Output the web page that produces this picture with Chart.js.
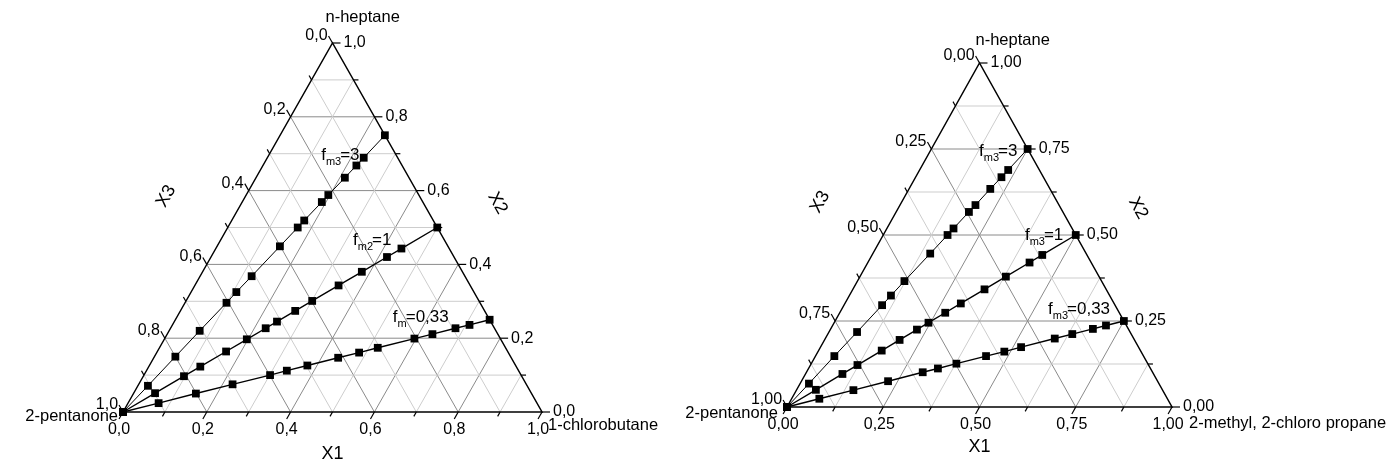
<!DOCTYPE html>
<html>
<head>
<meta charset="utf-8">
<script src="https://cdn.jsdelivr.net/npm/chart.js@4.4.0/dist/chart.umd.min.js"></script>
<style>
  body { margin: 0; background: #fff; overflow: hidden; }
  .wrap { position: absolute; top: 0; height: 464px; }
</style>
</head>
<body>
<div class="wrap" style="left:0;width:700px"><canvas id="left" width="700" height="464"></canvas></div>
<div class="wrap" style="left:640px;width:751px"><canvas id="right" width="751" height="464"></canvas></div>
<script>
// mole fractions: X1 along the base, X2 up the right side
const leftFm3X1 = [0, 0.024, 0.050, 0.073, 0.099, 0.108, 0.123, 0.150, 0.167, 0.173, 0.190, 0.196, 0.212, 0.223, 0.230, 0.250];
const leftFm3X2 = [0, 0.071, 0.150, 0.220, 0.296, 0.325, 0.368, 0.449, 0.500, 0.519, 0.569, 0.588, 0.635, 0.668, 0.689, 0.750];
const leftFm2X1 = [0, 0.051, 0.097, 0.123, 0.164, 0.197, 0.227, 0.245, 0.274, 0.301, 0.343, 0.380, 0.420, 0.443, 0.500];
const leftFm2X2 = [0, 0.051, 0.097, 0.123, 0.164, 0.197, 0.227, 0.245, 0.274, 0.301, 0.343, 0.380, 0.420, 0.443, 0.500];
const leftFmX1 = [0, 0.073, 0.149, 0.224, 0.301, 0.335, 0.377, 0.440, 0.483, 0.521, 0.596, 0.633, 0.680, 0.709, 0.750];
const leftFmX2 = [0, 0.024, 0.050, 0.075, 0.100, 0.112, 0.126, 0.147, 0.161, 0.174, 0.199, 0.211, 0.227, 0.236, 0.250];

const rightFm3aX1 = [0, 0.023, 0.049, 0.073, 0.099, 0.108, 0.122, 0.149, 0.167, 0.173, 0.189, 0.196, 0.211, 0.223, 0.230, 0.250];
const rightFm3aX2 = [0, 0.068, 0.148, 0.218, 0.296, 0.324, 0.366, 0.446, 0.500, 0.519, 0.567, 0.587, 0.634, 0.668, 0.689, 0.750];
const rightFm3bX1 = [0, 0.050, 0.096, 0.122, 0.164, 0.195, 0.225, 0.245, 0.274, 0.301, 0.342, 0.379, 0.420, 0.442, 0.500];
const rightFm3bX2 = [0, 0.050, 0.096, 0.122, 0.164, 0.195, 0.225, 0.245, 0.274, 0.301, 0.342, 0.379, 0.420, 0.442, 0.500];
const rightFm3cX1 = [0, 0.072, 0.148, 0.225, 0.302, 0.336, 0.377, 0.443, 0.484, 0.521, 0.596, 0.635, 0.681, 0.710, 0.750];
const rightFm3cX2 = [0, 0.024, 0.049, 0.075, 0.101, 0.112, 0.126, 0.148, 0.161, 0.174, 0.199, 0.212, 0.227, 0.237, 0.250];

const leftGrid = [0.1, 0.2, 0.3, 0.4, 0.5, 0.6, 0.7, 0.8, 0.9];
const leftMajor = [0.2, 0.4, 0.6, 0.8];
const leftTicks = [0, 0.2, 0.4, 0.6, 0.8, 1.0];
const leftTickLabels = ["0,0", "0,2", "0,4", "0,6", "0,8", "1,0"];

const rightGrid = [0.125, 0.25, 0.375, 0.5, 0.625, 0.75, 0.875];
const rightMajor = [0.25, 0.5, 0.75];
const rightTicks = [0, 0.25, 0.5, 0.75, 1.0];
const rightTickLabels = ["0,00", "0,25", "0,50", "0,75", "1,00"];

const FONT = "'Liberation Sans', Arial, sans-serif";

// ternary -> cartesian (the y scale runs 0..1 from base to apex)
function toXY(x1, x2) {
  return { x: x1 + x2 / 2, y: x2 };
}

function seg(a, b, color, width) {
  return {
    data: [a, b],
    showLine: true,
    borderColor: color,
    borderWidth: width,
    pointRadius: 0,
    clip: false,
    order: 2,
  };
}

function drawText(ctx, text, x, y, align, size) {
  ctx.font = size + "px " + FONT;
  ctx.textAlign = align;
  ctx.fillText(text, x, y);
}

function drawFm(ctx, x, y, sub, rest) {
  ctx.textAlign = "left";
  ctx.font = "17px " + FONT;
  ctx.fillText("f", x, y);
  const wf = ctx.measureText("f").width;
  ctx.font = "11px " + FONT;
  ctx.fillText(sub, x + wf, y + 5);
  const ws = ctx.measureText(sub).width;
  ctx.font = "17px " + FONT;
  ctx.fillText(rest, x + wf + ws - 1, y);
}

function makeChart(id, cfg) {
  const datasets = [];

  cfg.series.forEach((s) => {
    datasets.push({
      label: s.name,
      data: s.x1.map((v, i) => toXY(v, s.x2[i])),
      showLine: true,
      borderColor: "#000",
      borderWidth: s.width,
      pointStyle: "rect",
      pointRadius: 5.5,
      pointBackgroundColor: "#000",
      pointBorderWidth: 0,
      clip: false,
      order: 0,
    });
  });

  datasets.push({
    data: [toXY(0, 0), toXY(1, 0), toXY(0, 1), toXY(0, 0)],
    showLine: true,
    borderColor: "#000",
    borderWidth: 1.5,
    pointRadius: 0,
    clip: false,
    order: 1,
  });

  cfg.grid.forEach((v) => {
    const major = cfg.major.includes(v);
    const col = major ? "#8a8a8a" : "#cdcdcd";
    datasets.push(seg(toXY(0, v), toXY(1 - v, v), col, 1));
    datasets.push(seg(toXY(v, 0), toXY(v, 1 - v), col, 1));
    datasets.push(seg(toXY(1 - v, 0), toXY(0, 1 - v), col, 1));
  });

  const decor = {
    id: "ternaryDecor",
    afterDraw(chart) {
      const ctx = chart.ctx;
      const sx = chart.scales.x;
      const sy = chart.scales.y;
      const px = (p) => ({ x: sx.getPixelForValue(p.x), y: sy.getPixelForValue(p.y) });
      const BL = px(toXY(0, 0));
      const BR = px(toXY(1, 0));
      const T = px(toXY(0, 1));
      const unit = (a, b) => {
        const dx = b.x - a.x, dy = b.y - a.y, l = Math.hypot(dx, dy);
        return { x: dx / l, y: dy / l };
      };
      const dirBottom = unit(T, BL);
      const dirRight = unit(BL, BR);
      const dirLeft = unit(BR, T);

      ctx.save();
      ctx.strokeStyle = "#000";
      ctx.fillStyle = "#000";
      ctx.lineWidth = 1.2;
      ctx.textBaseline = "alphabetic";

      const tick = (p, d, len) => {
        ctx.beginPath();
        ctx.moveTo(p.x, p.y);
        ctx.lineTo(p.x + d.x * len, p.y + d.y * len);
        ctx.stroke();
        return { x: p.x + d.x * len, y: p.y + d.y * len };
      };

      // minor ticks
      cfg.grid.forEach((v) => {
        if (cfg.major.includes(v)) return;
        tick(px(toXY(v, 0)), dirBottom, 5);
        tick(px(toXY(1 - v, v)), dirRight, 5);
        tick(px(toXY(0, 1 - v)), dirLeft, 5);
      });

      // major ticks and labels
      cfg.ticks.forEach((v, i) => {
        const lab = cfg.tickLabels[i];
        const b = tick(px(toXY(v, 0)), dirBottom, 8);
        drawText(ctx, lab, b.x, BL.y + 22, "center", 16);
        const r = tick(px(toXY(1 - v, v)), dirRight, 8);
        ctx.textBaseline = "middle";
        drawText(ctx, lab, r.x + 3, r.y, "left", 16);
        ctx.textBaseline = "alphabetic";
        const l = tick(px(toXY(0, 1 - v)), dirLeft, 8);
        drawText(ctx, lab, l.x - 1, l.y + 4, "right", 16);
      });

      // corner names and axis titles
      cfg.names.forEach((n) => {
        const base = n.at === "T" ? T : n.at === "BL" ? BL : BR;
        drawText(ctx, n.text, base.x + n.dx, base.y + n.dy, n.align, 16.5);
      });
      drawText(ctx, "X1", (BL.x + BR.x) / 2, BL.y + cfg.x1Dy, "center", 18);

      const rotated = (text, p, ang) => {
        ctx.save();
        ctx.translate(p.x, p.y);
        ctx.rotate(ang);
        ctx.textBaseline = "middle";
        drawText(ctx, text, 0, 0, "center", 18);
        ctx.restore();
      };
      rotated("X3", px(cfg.x3Pos), Math.atan2(T.y - BL.y, T.x - BL.x));
      rotated("X2", px(cfg.x2Pos), Math.atan2(BR.y - T.y, BR.x - T.x));

      cfg.series.forEach((s) => {
        const p = px(s.labelPos);
        drawFm(ctx, p.x, p.y, s.sub, s.rest);
      });
      ctx.restore();
    },
  };

  return new Chart(document.getElementById(id), {
    type: "scatter",
    data: { datasets },
    options: {
      responsive: false,
      animation: false,
      events: [],
      layout: { padding: cfg.padding },
      plugins: { legend: { display: false }, tooltip: { enabled: false } },
      scales: {
        x: { type: "linear", min: 0, max: 1, display: false },
        y: { type: "linear", min: 0, max: 1, display: false },
      },
    },
    plugins: [decor],
  });
}

makeChart("left", {
  padding: { left: 123, right: 158, top: 43, bottom: 52 },
  grid: leftGrid,
  major: leftMajor,
  ticks: leftTicks,
  tickLabels: leftTickLabels,
  series: [
    { name: "fm3=3", x1: leftFm3X1, x2: leftFm3X2, width: 1, sub: "m3", rest: "=3", labelPos: { x: 0.473, y: 0.683 } },
    { name: "fm2=1", x1: leftFm2X1, x2: leftFm2X2, width: 1.4, sub: "m2", rest: "=1", labelPos: { x: 0.549, y: 0.453 } },
    { name: "fm=0,33", x1: leftFmX1, x2: leftFmX2, width: 1.4, sub: "m", rest: "=0,33", labelPos: { x: 0.644, y: 0.244 } },
  ],
  names: [
    { text: "n-heptane", at: "T", dx: -7, dy: -21, align: "left" },
    { text: "2-pentanone", at: "BL", dx: -5, dy: 9, align: "right" },
    { text: "1-chlorobutane", at: "BR", dx: 6, dy: 18, align: "left" },
  ],
  x1Dy: 47,
  x3Pos: { x: 0.103, y: 0.585 },
  x2Pos: { x: 0.894, y: 0.566 },
});

makeChart("right", {
  padding: { left: 147, right: 219, top: 63, bottom: 57 },
  grid: rightGrid,
  major: rightMajor,
  ticks: rightTicks,
  tickLabels: rightTickLabels,
  series: [
    { name: "fm3=3", x1: rightFm3aX1, x2: rightFm3aX2, width: 1, sub: "m3", rest: "=3", labelPos: { x: 0.499, y: 0.730 } },
    { name: "fm3=1", x1: rightFm3bX1, x2: rightFm3bX2, width: 1.4, sub: "m3", rest: "=1", labelPos: { x: 0.618, y: 0.485 } },
    { name: "fm3=0,33", x1: rightFm3cX1, x2: rightFm3cX2, width: 1.4, sub: "m3", rest: "=0,33", labelPos: { x: 0.678, y: 0.270 } },
  ],
  names: [
    { text: "n-heptane", at: "T", dx: -4, dy: -18, align: "left" },
    { text: "2-pentanone", at: "BL", dx: -9, dy: 11, align: "right" },
    { text: "2-methyl, 2-chloro propane", at: "BR", dx: 17, dy: 21, align: "left" },
  ],
  x1Dy: 45,
  x3Pos: { x: 0.086, y: 0.596 },
  x2Pos: { x: 0.912, y: 0.578 },
});
</script>
</body>
</html>
